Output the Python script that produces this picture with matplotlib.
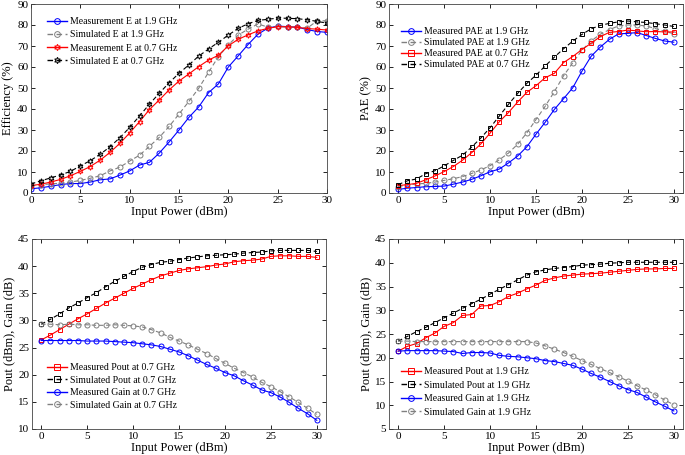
import numpy as np
import matplotlib.pyplot as plt

plt.rcParams['font.family'] = ['Liberation Serif', 'DejaVu Serif']
plt.rcParams['font.size'] = 8

pin = np.arange(0, 31)

# efficiency (%)
eff_meas_19 = [2, 2.5, 3.2, 4, 4.5, 4.5, 5.2, 6.3, 6.7, 8.5, 10.5, 13.3, 14.6, 19, 24.3, 30, 36, 41,
               47.8, 52, 60, 65.3, 70.7, 75.6, 78.5, 79.5, 79.2, 79, 77.8, 76.9, 76.5]
eff_sim_19 = [3.5, 4, 4.3, 4.7, 5.2, 6, 7, 8.2, 10.5, 12.3, 15.2, 18, 22.2, 26.5, 31.7, 37.6, 43.6, 49.9,
              57.5, 65, 70.5, 75.2, 78, 80.5, 79, 79.3, 79, 79.2, 78.5, 82, 82]
eff_meas_07 = [3.5, 4.2, 5.2, 6.5, 8.2, 10.3, 12.6, 15.6, 19.3, 23.6, 28.6, 34, 39.7, 44.3, 49.1, 53.3,
               56.7, 60.2, 63.3, 65.6, 70.1, 73.2, 75.3, 77.2, 78.4, 79.2, 79.1, 78.9, 78.3, 78, 77.6]
eff_sim_07 = [4.3, 5.8, 7.2, 8.6, 10.3, 12.9, 15.4, 18.4, 22, 26.3, 31.2, 36.7, 42.3, 47.5, 52.5, 57, 61,
              65.2, 68.6, 71.8, 75.2, 78.4, 80.6, 82.2, 82.7, 83.3, 83.2, 83, 82.5, 81.7, 80.9]

# PAE (%)
pae_meas_19 = [1.7, 2.3, 2.6, 3, 3.1, 3.3, 4.2, 5.2, 6.5, 8.2, 10.1, 11.4, 14.3, 17.6, 22, 28, 33.7, 39.8,
               44.9, 50.1, 58, 65.1, 69.5, 73.2, 75.8, 76, 76.4, 75, 73.6, 72.4, 71.8]
pae_sim_19 = [3, 3.8, 4.3, 4.6, 5.2, 6, 6.8, 7.8, 9.3, 11, 13, 15.8, 19, 23.2, 28.6, 35, 41.3, 48.3,
              55.8, 62, 68, 72.4, 75.6, 77.8, 79.6, 80, 80, 79.5, 78.3, 77, 75.8]
pae_meas_07 = [3.5, 4, 4.6, 6.3, 8.1, 10.2, 12.6, 15.6, 19.2, 23.4, 28.5, 33.9, 38.3, 43.3, 47.9, 51.1,
               54.9, 57, 62.1, 65, 68.3, 71.3, 74.5, 76.5, 76.9, 77.6, 77.2, 76.8, 76.9, 76.7, 76.7]
pae_sim_07 = [4, 5.8, 6.7, 9.2, 10.6, 12.9, 15.5, 18, 21.9, 26.2, 31.1, 36.6, 42.2, 47.4, 52.2, 56.1,
              60.5, 64.7, 68.7, 72.3, 75.5, 78.2, 79.8, 80.8, 81.5, 81.9, 81.5, 81.2, 80.6, 80, 79.3]

# Pout / gain at 0.7 GHz
pout_meas_07 = [26.4, 27.3, 28.3, 29.3, 30.3, 31.2, 32.2, 33.2, 34.1, 35, 35.9, 36.7, 37.5, 38.2, 38.7,
                39.2, 39.5, 39.7, 39.9, 40.2, 40.4, 40.8, 41, 41.1, 41.3, 41.8, 41.9, 41.9, 41.8, 41.8, 41.6]
pout_sim_07 = [29.3, 30.2, 31.2, 32.3, 33.2, 34.2, 35.1, 36.2, 37.2, 38.1, 39, 39.8, 40.3, 40.7, 40.9,
               41.2, 41.5, 41.7, 41.9, 42, 42.1, 42.2, 42.4, 42.5, 42.6, 42.8, 42.9, 42.9, 42.9, 42.9, 42.7]
gain_meas_07 = [26.3, 26.3, 26.3, 26.3, 26.3, 26.2, 26.2, 26.2, 26.1, 26, 25.9, 25.7, 25.5, 25.2, 24.7,
                24.2, 23.5, 22.7, 21.9, 21.2, 20.4, 19.8, 18.9, 18.1, 17.2, 16.7, 15.9, 14.9, 13.8, 12.8, 11.6]
gain_sim_07 = [29.3, 29.3, 29.2, 29.3, 29.2, 29.2, 29.1, 29.1, 29.2, 29.1, 29, 28.8, 28.3, 27.7, 26.9,
               26.2, 25.5, 24.7, 23.9, 23, 22.1, 21.2, 20.4, 19.6, 18.6, 17.8, 16.9, 15.9, 14.9, 13.8, 12.7]

# Pout / gain at 1.9 GHz
pout_meas_19 = [21.4, 22.4, 23, 24.2, 25.2, 26.6, 27.4, 28.9, 29.1, 30.9, 31, 31.8, 32.9, 33.6, 34.5,
                35.3, 36.3, 36.8, 37.2, 37.4, 37.6, 37.7, 37.8, 38, 38.2, 38.4, 38.6, 38.7, 38.7, 38.8, 38.8]
pout_sim_19 = [23.5, 24.5, 25.5, 26.4, 27.4, 28.4, 29.4, 30.4, 31.4, 32.3, 33.4, 34.4, 35.4, 36.4, 37.4,
               38.1, 38.5, 38.8, 39, 39.2, 39.5, 39.6, 39.7, 39.9, 40, 40.1, 40.1, 40.1, 40.1, 40.1, 40.1]
gain_meas_19 = [21.4, 21.5, 21.5, 21.5, 21.5, 21.4, 21.3, 20.9, 21.1, 21.1, 21, 20.5, 20.3, 20.2, 20,
                19.8, 19.4, 19.2, 18.8, 18.4, 17.6, 16.7, 15.9, 15, 14.1, 13.3, 12.7, 11.7, 10.7, 9.8, 8.8]
gain_sim_19 = [23.5, 23.5, 23.4, 23.4, 23.4, 23.4, 23.4, 23.4, 23.4, 23.4, 23.4, 23.4, 23.4, 23.4, 23.4,
               23.1, 22.5, 21.8, 21.1, 20.3, 19.4, 18.6, 17.7, 16.9, 16, 15.1, 14.1, 13.2, 12.2, 11.1, 10.1]

hexagram = (6, 1, 0)
W, H = 685, 455
fig = plt.figure(figsize=(6.85, 4.55), dpi=100)


def make_axes(x0, y0, x1, y1):
    return fig.add_axes([x0 / W, 1 - y1 / H, (x1 - x0) / W, (y1 - y0) / H])


def style(ax, ylim, yticks, ylabel, xlim):
    ax.set_xlim(*xlim)
    ax.set_ylim(*ylim)
    ax.set_xticks(range(0, 31, 5))
    ax.set_yticks(yticks)
    ax.set_xlabel('Input Power (dBm)', fontsize=9, labelpad=1)
    ax.set_ylabel(ylabel, fontsize=9, labelpad=2)
    ax.tick_params(direction='in', top=True, right=True, length=3, width=0.6, pad=2)
    for s in ax.spines.values():
        s.set_linewidth(0.6)
        s.set_color('#444444')


def series(ax, y, color, ls, marker, label, ms=3.6):
    ax.plot(pin, y, color=color, ls=ls, lw=0.8, marker=marker, ms=ms, mfc='none',
            mec=color, mew=0.7, label=label, dashes=(4, 2.5) if ls == '--' else (None, None))


def legend(ax, x, y, pitch):
    # x, y: top-left of legend in figure pixels, pitch: row spacing in pixels
    leg = ax.legend(loc='upper left', bbox_to_anchor=(x / W, 1 - y / H), bbox_transform=fig.transFigure,
                    frameon=False, fontsize=7, handlelength=2.1, labelspacing=pitch / 9.72 - 1,
                    handletextpad=0.3, borderpad=0, borderaxespad=0, numpoints=1, markerscale=1.15)
    for h in leg.legend_handles:
        h.set_linewidth(1.0)


# efficiency
ax1 = make_axes(31, 4, 327, 193)
series(ax1, eff_meas_19, 'blue', '-', 'o', 'Measurement E at 1.9 GHz')
series(ax1, eff_sim_19, 'gray', '--', 'o', 'Simulated E at 1.9 GHz')
series(ax1, eff_meas_07, 'red', '-', hexagram, 'Measurement E at 0.7 GHz', ms=4)
series(ax1, eff_sim_07, 'black', '--', hexagram, 'Simulated E at 0.7 GHz', ms=4)
style(ax1, (0, 90), range(0, 91, 10), 'Efficiency (%)', (0, 30))
legend(ax1, 47, 17, 14)

# PAE
ax2 = make_axes(389, 4, 683, 193)
series(ax2, pae_meas_19, 'blue', '-', 'o', 'Measured PAE at 1.9 GHz')
series(ax2, pae_sim_19, 'gray', '--', 'o', 'Simulated PAE at 1.9 GHz')
series(ax2, pae_meas_07, 'red', '-', 's', 'Measured PAE at 0.7 GHz', ms=3.2)
series(ax2, pae_sim_07, 'black', '--', 's', 'Simulated PAE at 0.7 GHz', ms=3.2)
style(ax2, (0, 90), range(0, 91, 10), 'PAE (%)', (-1, 31))
legend(ax2, 401, 27, 11.7)

# Pout / gain 0.7 GHz
ax3 = make_axes(32, 239, 326, 429)
series(ax3, pout_meas_07, 'red', '-', 's', 'Measured Pout at 0.7 GHz', ms=3.2)
series(ax3, pout_sim_07, 'black', '--', 's', 'Simulated Pout at 0.7 GHz', ms=3.2)
series(ax3, gain_meas_07, 'blue', '-', 'o', 'Measured Gain at 0.7 GHz')
series(ax3, gain_sim_07, 'gray', '--', 'o', 'Simulated Gain at 0.7 GHz')
style(ax3, (10, 45), range(10, 46, 5), 'Pout (dBm), Gain (dB)', (-1, 31))
legend(ax3, 47, 363, 13.3)

# Pout / gain 1.9 GHz
ax4 = make_axes(389, 239, 683, 429)
series(ax4, pout_meas_19, 'red', '-', 's', 'Measured Pout at 1.9 GHz', ms=3.2)
series(ax4, pout_sim_19, 'black', '--', 's', 'Simulated Pout at 1.9 GHz', ms=3.2)
series(ax4, gain_meas_19, 'blue', '-', 'o', 'Measured Gain at 1.9 GHz')
series(ax4, gain_sim_19, 'gray', '--', 'o', 'Simulated Gain at 1.9 GHz')
style(ax4, (5, 45), range(5, 46, 5), 'Pout (dBm), Gain (dB)', (-1, 31))
legend(ax4, 401, 367, 14.3)

fig.savefig('out.png', dpi=100)
